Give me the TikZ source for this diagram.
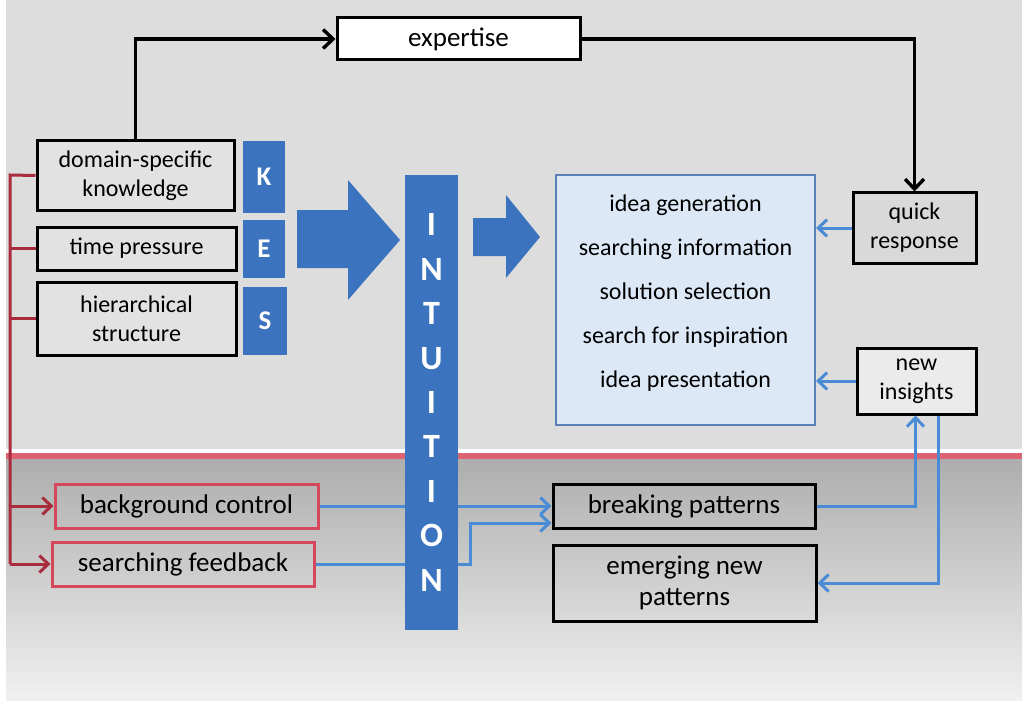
\documentclass[tikz,border=0pt]{standalone}
\usepackage{fontspec}
\setmainfont{Carlito}
\usepackage{tikz}
\usetikzlibrary{arrows.meta,positioning}

\definecolor{topgray}{HTML}{DDDDDD}
\definecolor{boxgray}{HTML}{E2E2E2}
\definecolor{kesblue}{HTML}{3C73BE}
\definecolor{linkblue}{HTML}{4A8BD6}
\definecolor{ideafill}{HTML}{DCE8F6}
\definecolor{ideaedge}{HTML}{5A80B8}
\definecolor{busred}{HTML}{A82C3C}
\definecolor{boxred}{HTML}{D5475A}

\tikzset{
  blackline/.style={draw=black,line width=3.4pt,-{Straight Barb[length=10pt,width=19pt,line width=3.4pt]}},
  blueline/.style={draw=linkblue,line width=3pt},
  bluearrow/.style={blueline,-{Straight Barb[length=9pt,width=17pt,line width=3pt]}},
  redline/.style={draw=busred,line width=3pt},
  redarrow/.style={redline,-{Straight Barb[length=9pt,width=17pt,line width=3pt]}}
}

\begin{document}
\begin{tikzpicture}[x=1pt,y=-1pt,font=\fontsize{24}{29}\selectfont]
  \useasboundingbox (0,0) rectangle (1026,706);
  \fill[topgray] (6,0) rectangle (1022,449);
  \fill[white] (6,449) rectangle (1022,453);
  \fill[boxred!85] (6,453) rectangle (1022,459);
  \shade[top color=black!32,bottom color=yellow!5!black!6] (6,459) rectangle (1022,700);

  \begin{scope}[every node/.style={draw=black,line width=3pt,fill=boxgray,align=center,inner sep=0pt}]
    \node[minimum width=243pt,minimum height=42pt,fill=white,font=\fontsize{27}{32}\selectfont] (expertise) at (458.5,39) {expertise};
    \node[minimum width=197pt,minimum height=69pt] (knowledge) at (135.5,175.5) {domain-specific\\knowledge};
    \node[minimum width=199pt,minimum height=43pt] (pressure) at (136.5,248.5) {time pressure};
    \node[minimum width=199pt,minimum height=73pt] (hierarchy) at (136.5,318.5) {hierarchical\\structure};
    \node[minimum width=123pt,minimum height=70pt,fill=black!15] (quick) at (914.5,228) {quick\\response};
    \node[minimum width=119pt,minimum height=66pt,fill=black!8] (insights) at (916.5,381) {new\\insights};
  \end{scope}

  \begin{scope}[every node/.style={line width=3pt,align=center,inner sep=0pt,font=\fontsize{27}{31}\selectfont}]
    \node[draw=boxred,minimum width=263pt,minimum height=44pt] (bgcontrol) at (186.5,506) {background control};
    \node[draw=boxred,minimum width=262pt,minimum height=44pt] (feedback) at (183,564) {searching feedback};
    \node[draw=black,minimum width=262pt,minimum height=44pt] (breaking) at (684,506) {breaking patterns};
    \node[draw=black,minimum width=263pt,minimum height=76pt] (emerging) at (684.5,583) {emerging new\\patterns};
  \end{scope}

  \node[draw=ideaedge,fill=ideafill,line width=2pt,minimum width=259pt,minimum height=250pt] (ideas) at (685.5,300) {};
  \node[align=center,font=\fontsize{24}{44}\selectfont] (ideatext) at (685.5,293)
    {idea generation\\searching information\\solution selection\\search for inspiration\\idea presentation};

  \begin{scope}[every node/.style={fill=kesblue,text=white,inner sep=0pt,font=\bfseries\fontsize{27}{30}\selectfont}]
    \node[minimum width=42pt,minimum height=72pt] (k) at (264,177) {K};
    \node[minimum width=42pt,minimum height=58pt] (e) at (264,249) {E};
    \node[minimum width=44pt,minimum height=68pt] (s) at (265,321) {S};
  \end{scope}

  \fill[kesblue] (297,210) -- (348,210) -- (348,180) -- (400,240) -- (348,300) -- (348,268) -- (297,268) -- cycle;
  \fill[kesblue] (473,218) -- (506,218) -- (506,195) -- (540,237) -- (506,278) -- (506,256) -- (473,256) -- cycle;

  \draw[blackline] (knowledge.north) |- (expertise.west);
  \draw[blackline] (expertise.east) -| (quick.north);

  \draw[bluearrow] (quick.west) -- (quick.west -| ideas.east);
  \draw[bluearrow] (insights.west) -- (insights.west -| ideas.east);

  \coordinate (bus) at (10,175);
  \draw[redline] (knowledge.west) -- (bus) -- (bus |- feedback.west);
  \draw[redline] (bus |- pressure.west) -- (pressure.west);
  \draw[redline] (bus |- hierarchy.west) -- (hierarchy.west);
  \draw[redarrow] (bus |- bgcontrol.west) -- (bgcontrol.west);
  \draw[redarrow] (bus |- feedback.west) -- (feedback.west);

  \coordinate (bend) at (470,523);
  \draw[bluearrow] (bgcontrol.east) -- (breaking.west);
  \draw[bluearrow] (feedback.east) -| (bend) -- (bend -| breaking.west);
  \draw[bluearrow] (breaking.east) -| ([xshift=-1pt]insights.south);
  \draw[bluearrow] ([xshift=22pt]insights.south) |- (emerging.east);

  \node[fill=kesblue,text=white,align=center,inner sep=0pt,minimum width=53pt,minimum height=455pt,
        font=\bfseries\fontsize{34}{44.4}\selectfont] (intuition) at (431.5,402.5) {I\\N\\T\\U\\I\\T\\I\\O\\N};
\end{tikzpicture}
\end{document}
